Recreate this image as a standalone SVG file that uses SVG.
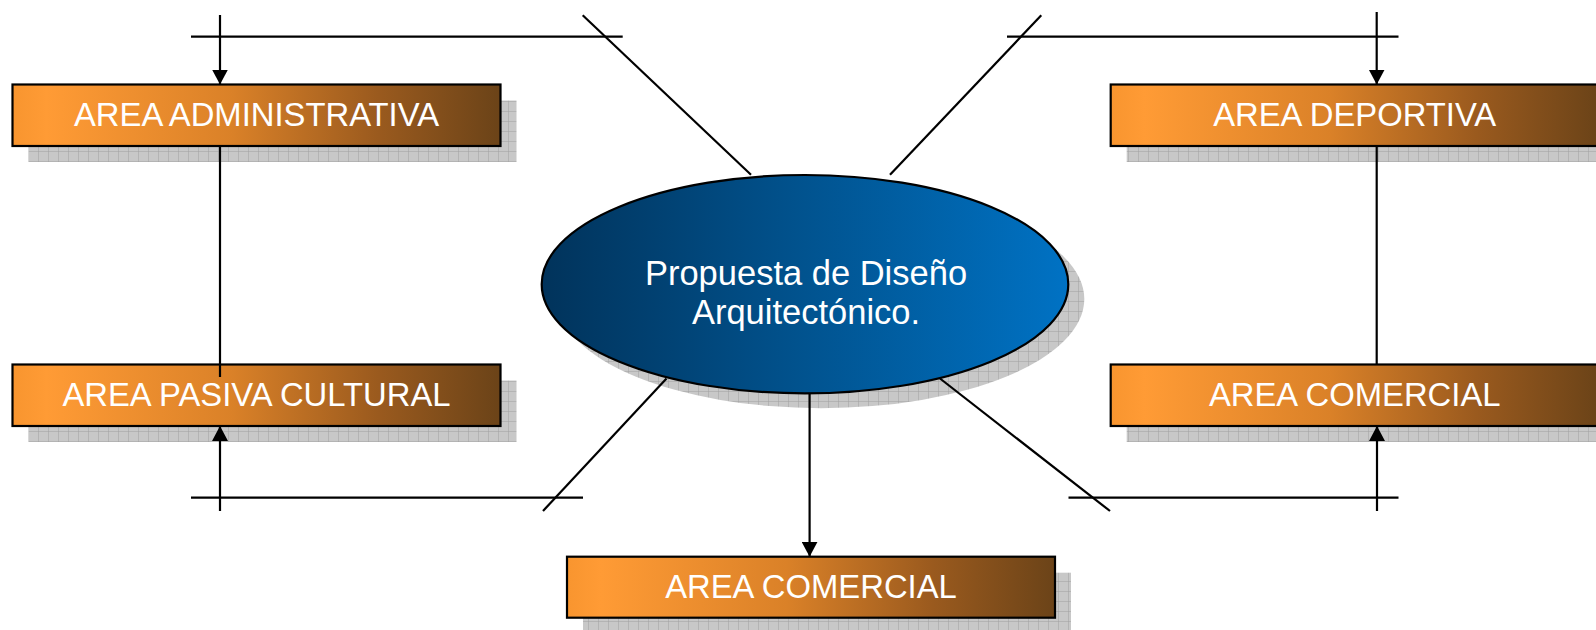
<svg xmlns="http://www.w3.org/2000/svg" width="1596" height="630" viewBox="0 0 1596 630">
  <defs>
    <style>
      .box { stroke: #000; stroke-width: 2.2; fill: url(#gOrange); }
      .shadow { fill: url(#pShadow); }
      .lbl { font-family: "Liberation Sans", Arial, sans-serif; font-size: 32.8px; fill: #fff; text-anchor: middle; }
      .elbl { font-family: "Liberation Sans", Arial, sans-serif; font-size: 34.5px; fill: #fff; text-anchor: middle; }
      .ln { stroke: #000; stroke-width: 2.2; fill: none; }
      .arrow { marker-end: url(#arr); }
    </style>
    <linearGradient id="gOrange" x1="0" y1="0" x2="1" y2="0">
      <stop offset="0" stop-color="#F8952F"/>
      <stop offset="0.07" stop-color="#FF9B35"/>
      <stop offset="0.45" stop-color="#DA8128"/>
      <stop offset="0.75" stop-color="#9A5A1E"/>
      <stop offset="1" stop-color="#6B4318"/>
    </linearGradient>
    <linearGradient id="gBlue" x1="0" y1="0" x2="1" y2="0">
      <stop offset="0" stop-color="#01335B"/>
      <stop offset="0.5" stop-color="#01538F"/>
      <stop offset="1" stop-color="#0072C4"/>
    </linearGradient>
    <pattern id="pShadow" x="8" y="1" width="10" height="10" patternUnits="userSpaceOnUse">
      <rect width="10" height="10" fill="#C8C8C8"/>
      <path d="M0,0 H10 M0,0 V10" stroke="#A0A0A0" stroke-width="1"/>
    </pattern>
    <marker id="arr" viewBox="0 0 15 16" refX="15" refY="8" markerWidth="15" markerHeight="16" markerUnits="userSpaceOnUse" orient="auto">
      <path d="M0,0 L15,8 L0,16 z" fill="#000"/>
    </marker>
  </defs>
  <rect width="1596" height="630" fill="#fff"/>

  <g id="node-propuesta">
    <ellipse class="shadow" cx="821" cy="299" rx="263.3" ry="109.2"/>
    <ellipse cx="805" cy="284.2" rx="263.3" ry="109.2" fill="url(#gBlue)" stroke="#000" stroke-width="2.2"/>
    <text class="elbl" x="806" y="285">Propuesta de Diseño</text>
    <text class="elbl" x="806" y="324">Arquitectónico.</text>
  </g>

  <g id="node-administrativa">
    <rect class="shadow" x="28.5" y="100.5" width="488" height="61.5"/>
    <rect class="box" x="12.5" y="84.5" width="488" height="61.5"/>
    <text class="lbl" x="256.5" y="125.5">AREA ADMINISTRATIVA</text>
  </g>

  <g id="node-deportiva">
    <rect class="shadow" x="1126.7" y="100.5" width="488" height="61.5"/>
    <rect class="box" x="1110.7" y="84.5" width="488" height="61.5"/>
    <text class="lbl" x="1354.7" y="125.5">AREA DEPORTIVA</text>
  </g>

  <g id="node-pasiva">
    <rect class="shadow" x="28.5" y="380.5" width="488" height="61.5"/>
    <rect class="box" x="12.5" y="364.5" width="488" height="61.5"/>
    <text class="lbl" x="256.5" y="405.5">AREA PASIVA CULTURAL</text>
  </g>

  <g id="node-comercial-der">
    <rect class="shadow" x="1126.7" y="380.5" width="488" height="61.5"/>
    <rect class="box" x="1110.7" y="364.5" width="488" height="61.5"/>
    <text class="lbl" x="1354.7" y="405.5">AREA COMERCIAL</text>
  </g>

  <g id="node-comercial-inf">
    <rect class="shadow" x="583" y="572.7" width="488" height="61.5"/>
    <rect class="box" x="567" y="556.7" width="488" height="61"/>
    <text class="lbl" x="811" y="597.5">AREA COMERCIAL</text>
  </g>

  <g id="connectors">
    <line class="ln" x1="191" y1="36.7" x2="622.7" y2="36.7"/>
    <line class="ln arrow" x1="220" y1="15" x2="220" y2="84.5"/>
    <line class="ln" x1="582.7" y1="15.3" x2="751" y2="174.7"/>
    <line class="ln" x1="220" y1="146" x2="220" y2="377"/>
    <line class="ln" x1="1007" y1="36.7" x2="1398.5" y2="36.7"/>
    <line class="ln arrow" x1="1376.7" y1="12" x2="1376.7" y2="84.5"/>
    <line class="ln" x1="1041.3" y1="15.3" x2="890" y2="174.7"/>
    <line class="ln" x1="1376.7" y1="146" x2="1376.7" y2="365"/>
    <line class="ln" x1="191" y1="497.7" x2="583" y2="497.7"/>
    <line class="ln arrow" x1="220" y1="511" x2="220" y2="426"/>
    <line class="ln" x1="666.5" y1="378.5" x2="543" y2="511"/>
    <line class="ln" x1="1068.5" y1="497.7" x2="1398.5" y2="497.7"/>
    <line class="ln arrow" x1="1377" y1="511" x2="1377" y2="426"/>
    <line class="ln" x1="940" y1="378.5" x2="1110" y2="511"/>
    <line class="ln arrow" x1="809.6" y1="393.4" x2="809.6" y2="556.7"/>
  </g>
</svg>
